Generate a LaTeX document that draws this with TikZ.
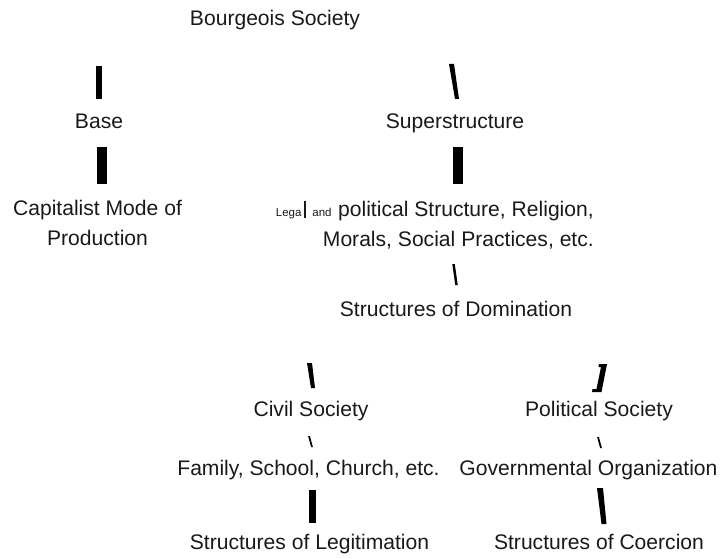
\documentclass[tikz,border=0pt]{standalone}
\usepackage{fontspec}
\setmainfont{Liberation Sans}
\begin{document}
% tapered bar between two centre points: x1,y1,x2,y2,width1,width2
\newcommand\taperbar[6]{%
  \fill[barfill] ({#1-(#5)/2},#2) -- ({#1+(#5)/2},#2) -- ({#3+(#6)/2},#4) -- ({#3-(#6)/2},#4) -- cycle;}
\newcommand\smalltxt[1]{{\fontsize{11.5}{13}\selectfont #1}}
\begin{tikzpicture}[x=1pt,y=-1pt,
  label/.style={inner sep=0pt,anchor=base,font=\fontsize{21.1}{30}\selectfont,text=black!90},
  barfill/.style={fill=black}]
\path[use as bounding box] (0,0) rectangle (726,559);

% labels (multi-line nodes are placed by the baseline of their last line)
\node[label] (bourgeois) at (275,26) {Bourgeois Society};
\node[label] (base) at (99,129) {Base};
\node[label,align=center] (capital) at (97.5,245) {Capitalist Mode of\\Production};
\node[label] (super) at (455,129) {Superstructure};
\node[label,align=right,anchor=base east] (legal) at (594,246)
  {\smalltxt{Lega}\hspace{3pt}\rule[-2pt]{2pt}{17pt}\hspace{6pt}\smalltxt{and}\hspace{6.5pt}political Structure, Religion,\\
   Morals, Social Practices, etc.};
\node[label] (domination) at (456,316) {Structures of Domination};
\node[label] (civil) at (311,416) {Civil Society};
\node[label] (family) at (308.5,475) {Family, School, Church, etc.};
\node[label] (legit) at (309.5,549) {Structures of Legitimation};
\node[label] (political) at (599,416) {Political Society};
\node[label] (govt) at (588.5,475) {Governmental Organization};
\node[label] (coercion) at (599,549) {Structures of Coercion};

% connecting bars
\taperbar{99}{66}{99}{99}{6.8}{6.8}
\taperbar{102.2}{147}{102.2}{184}{9.7}{9.7}
\taperbar{451.5}{64}{457}{99}{5}{4}
\taperbar{458}{147}{458}{184}{10}{10}
\taperbar{453.5}{264}{456.5}{285}{2.5}{2.5}
\taperbar{309.5}{363}{313}{388}{5}{4}
\taperbar{309}{436}{312}{447}{1.8}{1.8}
\taperbar{312.5}{490}{312.5}{523}{7}{7}
\fill[barfill] (599,364) -- (607,364) -- (601.5,392) -- (592,392) -- (592.5,389)
  -- (596.5,389) -- (601,367) -- (598.5,367) -- cycle;
\taperbar{598}{437}{601}{448}{1.8}{1.8}
\taperbar{600}{488}{604}{524}{6}{5}
\end{tikzpicture}
\end{document}
